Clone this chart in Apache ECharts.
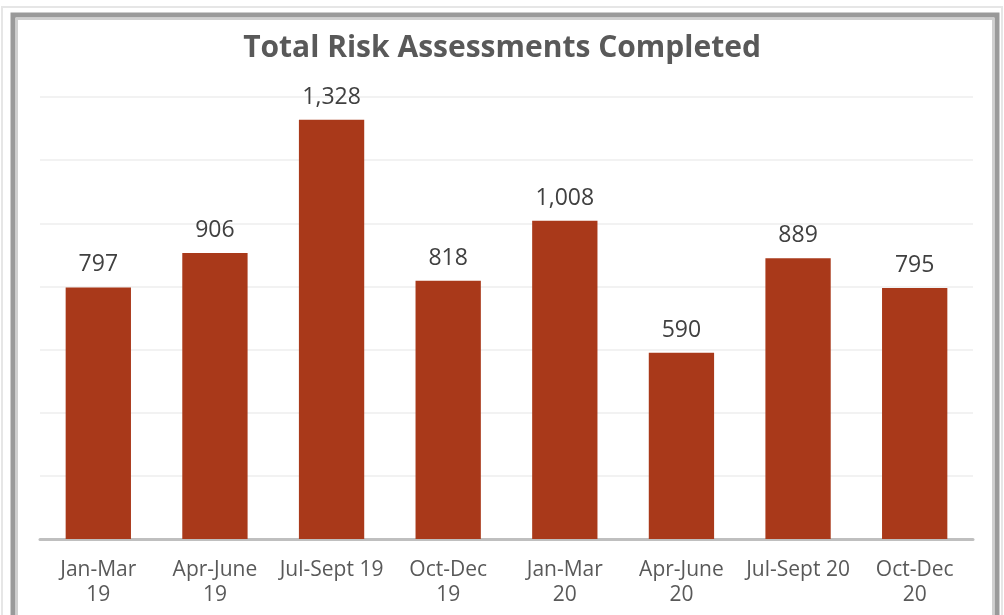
<!DOCTYPE html>
<html>
<head>
<meta charset="utf-8">
<script src="https://cdn.jsdelivr.net/npm/echarts@6/dist/echarts.min.js"></script>
<style>
  html, body { margin: 0; padding: 0; background: #fff; }
  #chart { width: 1004px; height: 615px; }
</style>
</head>
<body>
<div id="chart"></div>
<script>
// quarters
const categories = ['Jan-Mar\n19', 'Apr-June\n19', 'Jul-Sept 19', 'Oct-Dec\n19',
  'Jan-Mar\n20', 'Apr-June\n20', 'Jul-Sept 20', 'Oct-Dec\n20'];
const assessments = [797, 906, 1328, 818, 1008, 590, 889, 795];

const chart = echarts.init(document.getElementById('chart'));

const option = {
  backgroundColor: '#fff',
  animation: false,
  title: {
    text: 'Total Risk Assessments Completed',
    left: 'center',
    top: 28,
    textStyle: {
      fontFamily: 'Open Sans',
      fontWeight: 'bold',
      fontSize: 30,
      color: '#595959'
    }
  },
  graphic: [
    {
      type: 'rect',
      shape: { x: 2, y: 7, width: 1000, height: 620 },
      style: { fill: 'none', stroke: '#e6e6e6', lineWidth: 2 },
      silent: true
    },
    {
      type: 'rect',
      shape: { x: 13, y: 15, width: 984, height: 620 },
      style: { fill: 'none', stroke: '#9a9a9a', lineWidth: 5 },
      silent: true
    },
    {
      type: 'rect',
      shape: { x: 17, y: 19, width: 976, height: 620 },
      style: { fill: 'none', stroke: '#d0d0d0', lineWidth: 2 },
      silent: true
    }
  ],
  grid: {
    left: 40,
    right: 31,
    top: 97,
    bottom: 76
  },
  xAxis: {
    type: 'category',
    data: categories,
    axisTick: { show: false },
    axisLine: { lineStyle: { color: '#bfbfbf', width: 3 } },
    axisLabel: {
      interval: 0,
      margin: 19,
      fontFamily: 'Open Sans',
      fontSize: 21,
      lineHeight: 25,
      color: '#595959'
    }
  },
  yAxis: {
    type: 'value',
    min: 0,
    max: 1400,
    interval: 200,
    axisLabel: { show: false },
    axisLine: { show: false },
    axisTick: { show: false },
    splitLine: { lineStyle: { color: '#eeeeee', width: 1.5 } }
  },
  series: [
    {
      name: 'Total Risk Assessments',
      type: 'bar',
      data: assessments,
      barWidth: '56%',
      itemStyle: { color: '#A9391A' },
      label: {
        show: true,
        position: 'top',
        distance: 11,
        fontFamily: 'Open Sans',
        fontSize: 23,
        color: '#404040',
        formatter: function (p) {
          return p.value.toLocaleString('en-US');
        }
      }
    }
  ]
};

chart.setOption(option);
</script>
</body>
</html>
